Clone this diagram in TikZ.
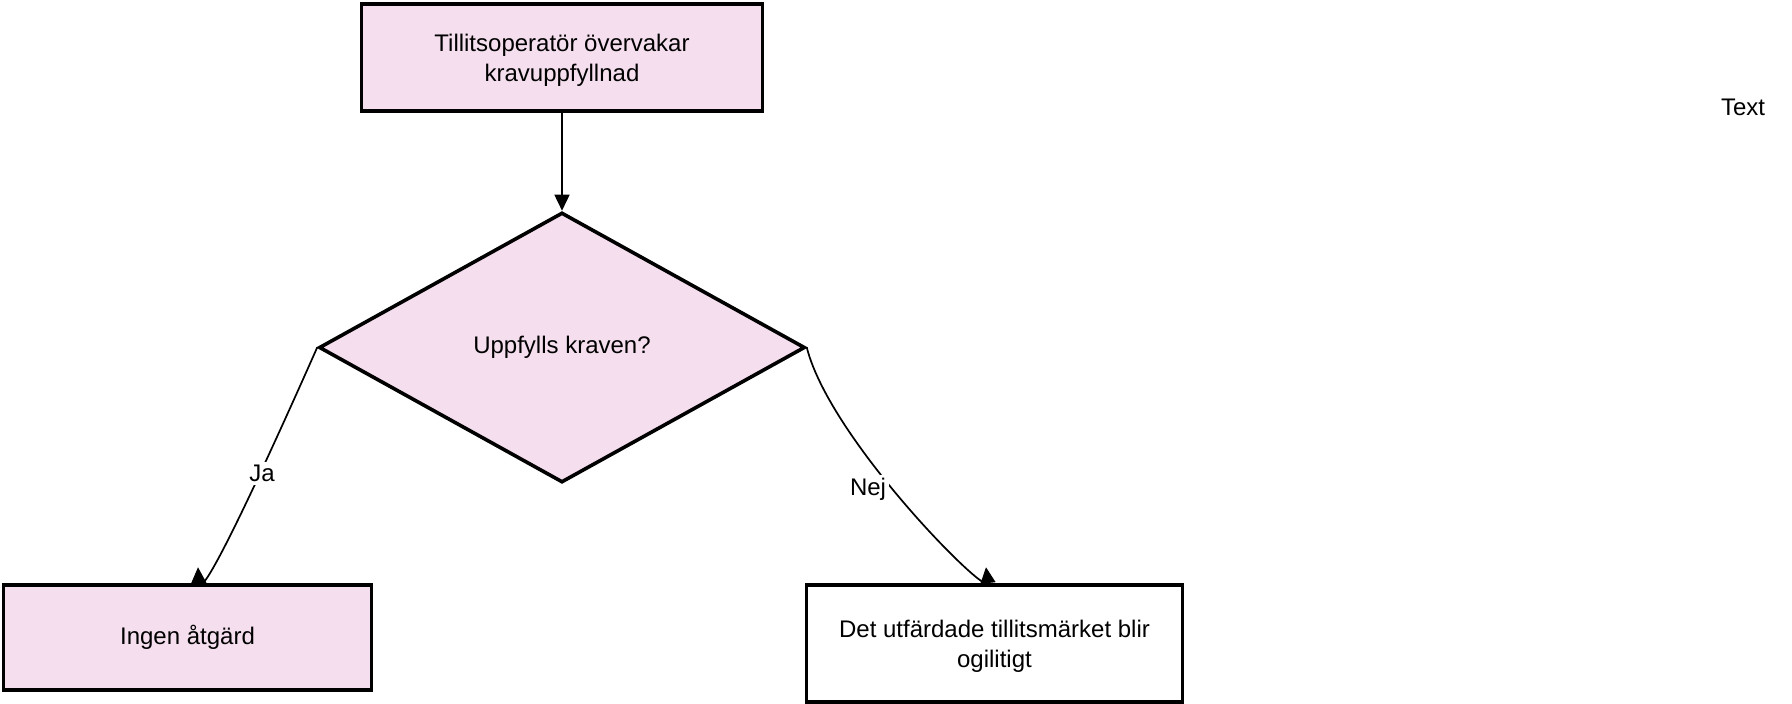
\documentclass[tikz,border=0pt]{standalone}
\usepackage{fontspec}
\setmainfont{Liberation Sans}
\usetikzlibrary{shapes.geometric,arrows.meta,calc}
\definecolor{pinkfill}{RGB}{245,222,238}
\newcommand{\topstrut}{\rule{0pt}{22.5pt}}
\begin{document}
\begin{tikzpicture}[x=1pt,y=-1pt,
  every node/.style={font=\fontsize{24}{30.3}\selectfont},
  box/.style={draw=black, line width=3.6pt, fill=pinkfill, align=center, inner sep=0pt},
  whitebox/.style={box, fill=white},
  decision/.style={diamond, draw=black, line width=3.6pt, fill=pinkfill, inner sep=0pt,
    minimum width=486pt, minimum height=270pt},
  conn/.style={line width=1.7pt, -{Triangle[length=16pt,width=15pt]}},
  lbl/.style={fill=white, inner sep=3pt, anchor=base},
  plain/.style={inner sep=0pt, anchor=base}]
\useasboundingbox (0,0) rectangle (1792,704);
\fill[white] (0,0) rectangle (1792,704);

\node[box, minimum width=401pt, minimum height=107pt] (top) at (562,57.5)
  {\topstrut Tillitsoperatör övervakar\\kravuppfyllnad};
\node[decision] (dia) at (562,347.5) {Uppfylls kraven?};
\node[box, minimum width=368pt, minimum height=105pt] (lbox) at (187.5,637.5) {Ingen åtgärd};
\node[whitebox, minimum width=376pt, minimum height=117pt] (rbox) at (994.5,643.5)
  {\topstrut Det utfärdade tillitsmärket blir\\ogilitigt};
\node[plain] (txt) at (1743,115.7) {Text};

\coordinate (jaend) at ($(lbox.north)+(10.5,-16)$);
\coordinate (nejend) at ($(rbox.north)+(-8.5,-16)$);

\draw[conn] (top.south) -- (dia.north);
\draw[conn] (dia.west) .. controls (285,420) and (200,610) .. (jaend);
\draw[conn] (dia.east) .. controls (830,440) and (990,600) .. (nejend);

\node[lbl] (ja) at (262,481.7) {Ja};
\node[lbl] (nej) at (868,495.7) {Nej};
\end{tikzpicture}
\end{document}
